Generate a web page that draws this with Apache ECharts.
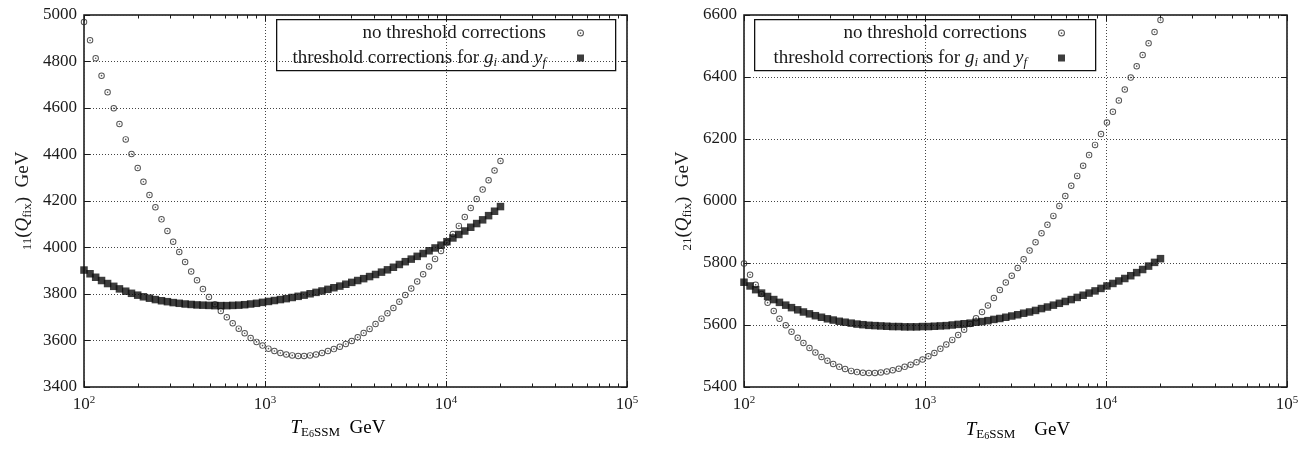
<!DOCTYPE html>
<html>
<head>
<meta charset="utf-8">
<script src="https://cdn.jsdelivr.net/npm/echarts@6/dist/echarts.min.js"></script>
<style>
  html, body { margin: 0; padding: 0; background: #fff; }
  #chart { width: 1315px; height: 450px; }
</style>
</head>
<body>
<div id="chart"></div>
<script>
// Scale T_E6SSM (GeV), log-spaced from 1e2 to 2e4
const tValues = [100, 108, 116, 125, 135, 146, 157, 170, 183, 198,
  213, 230, 248, 268, 289, 311, 336, 362, 391, 421,
  454, 490, 529, 570, 615, 663, 716, 772, 833, 898,
  969, 1045, 1127, 1216, 1311, 1414, 1525, 1645, 1775, 1914,
  2065, 2227, 2402, 2591, 2795, 3015, 3252, 3508, 3783, 4081,
  4402, 4748, 5121, 5524, 5958, 6427, 6932, 7477, 8065, 8699,
  9383, 10120, 10916, 11775, 12700, 13699, 14776, 15938, 17191, 18543,
  20000];

// Left panel: m11(Q_fix)
const leftNoThreshold = [4970, 4891, 4814, 4739, 4668, 4599, 4531, 4465, 4402, 4342,
  4283, 4226, 4173, 4121, 4071, 4025, 3981, 3938, 3897, 3859,
  3821, 3787, 3756, 3727, 3700, 3674, 3651, 3631, 3611, 3594,
  3578, 3565, 3555, 3546, 3540, 3536, 3533, 3533, 3536, 3540,
  3546, 3555, 3563, 3573, 3585, 3598, 3614, 3632, 3650, 3671,
  3694, 3717, 3740, 3767, 3796, 3824, 3854, 3885, 3918, 3951,
  3985, 4021, 4058, 4093, 4131, 4170, 4209, 4249, 4289, 4331,
  4372];
const leftThreshold = [3903, 3887, 3872, 3858, 3845, 3833, 3822, 3812, 3803, 3795,
  3788, 3782, 3776, 3771, 3767, 3763, 3760, 3757, 3755, 3753,
  3752, 3751, 3750, 3750, 3750, 3751, 3752, 3754, 3757, 3760,
  3764, 3768, 3772, 3776, 3780, 3785, 3790, 3795, 3801, 3807,
  3813, 3820, 3827, 3834, 3842, 3850, 3858, 3866, 3875, 3884,
  3894, 3904, 3915, 3927, 3939, 3950, 3962, 3974, 3986, 3998,
  4010, 4025, 4041, 4056, 4071, 4087, 4103, 4119, 4137, 4156,
  4176];

// Right panel: m21(Q_fix)
const rightNoThreshold = [5798, 5762, 5730, 5700, 5672, 5645, 5620, 5599, 5578, 5559,
  5542, 5526, 5511, 5497, 5485, 5474, 5465, 5458, 5452, 5448,
  5446, 5445, 5445, 5447, 5450, 5454, 5459, 5465, 5472, 5480,
  5489, 5499, 5510, 5523, 5537, 5552, 5568, 5585, 5603, 5622,
  5642, 5663, 5687, 5713, 5737, 5759, 5784, 5812, 5840, 5867,
  5896, 5923, 5952, 5984, 6016, 6049, 6081, 6114, 6148, 6181,
  6216, 6253, 6288, 6324, 6360, 6398, 6435, 6471, 6509, 6545,
  6584];
const rightThreshold = [5738, 5726, 5714, 5703, 5692, 5682, 5673, 5664, 5656, 5649,
  5642, 5636, 5630, 5625, 5620, 5616, 5612, 5609, 5606, 5603,
  5601, 5599, 5598, 5597, 5596, 5595, 5595, 5594, 5594, 5594,
  5595, 5595, 5596, 5597, 5598, 5600, 5602, 5604, 5606, 5609,
  5611, 5614, 5618, 5621, 5625, 5629, 5633, 5638, 5642, 5647,
  5653, 5658, 5664, 5670, 5676, 5682, 5689, 5696, 5703, 5710,
  5718, 5726, 5734, 5742, 5750, 5759, 5769, 5779, 5790, 5802,
  5814];

// Axis ticks
const xMinorTicks = [200, 300, 400, 500, 600, 700, 800, 900,
  2000, 3000, 4000, 5000, 6000, 7000, 8000, 9000,
  20000, 30000, 40000, 50000, 60000, 70000, 80000, 90000];
const leftYRange = [3400, 5000];
const rightYRange = [5400, 6600];
const yStep = 200;

const SERIES_A = 'no threshold corrections';
const SERIES_B = 'threshold corrections for g_i and y_f';

const FONT = '"Liberation Serif", "DejaVu Serif", serif';
const INK = '#1a1a1a';

// open circle with a centre dot
const RING_DOT = 'path://M0,-3A3,3 0 1,1 0,3A3,3 0 1,1 0,-3Z' +
  'M0,-2.1A2.1,2.1 0 1,0 0,2.1A2.1,2.1 0 1,0 0,-2.1Z' +
  'M0,-0.75A0.75,0.75 0 1,1 0,0.75A0.75,0.75 0 1,1 0,-0.75Z';

const richText = {
  r: { fontFamily: FONT, fontSize: 19, color: INK, lineHeight: 22 },
  it: { fontFamily: FONT, fontSize: 19, fontStyle: 'italic', color: INK, lineHeight: 22 },
  sub: { fontFamily: FONT, fontSize: 13, color: INK, lineHeight: 22, verticalAlign: 'bottom' },
  subi: { fontFamily: FONT, fontSize: 13, fontStyle: 'italic', color: INK, lineHeight: 22, verticalAlign: 'bottom' },
  subsub: { fontFamily: FONT, fontSize: 10, color: INK, lineHeight: 22, verticalAlign: 'bottom' },
  gap: { fontFamily: FONT, fontSize: 19, lineHeight: 22, width: 26 }
};

const gridsPx = [
  { left: 84, right: 1315 - 627, top: 15, bottom: 450 - 387 },
  { left: 744, right: 1315 - 1287, top: 15, bottom: 450 - 387 }
];

function xAxesFor(gridIndex) {
  const base = {
    type: 'log', logBase: 10, min: 100, max: 100000, gridIndex: gridIndex,
    axisLine: { show: false }, splitLine: { show: false }, axisLabel: { show: false },
    axisTick: { show: true, inside: true, length: 6, lineStyle: { color: INK, width: 1 } }
  };
  return [
    Object.assign({}, base, {
      position: 'bottom',
      splitLine: { show: true, lineStyle: { color: '#444', width: 1, type: [1, 2] } },
      axisLabel: {
        show: true, margin: 8,
        formatter: v => '{b|10}{s|' + Math.round(Math.log10(v)) + '}',
        rich: {
          b: { fontFamily: FONT, fontSize: 17, color: INK, lineHeight: 20 },
          s: { fontFamily: FONT, fontSize: 11, color: INK, lineHeight: 20, verticalAlign: 'top' }
        }
      }
    }),
    Object.assign({}, base, { position: 'bottom',
      axisTick: { show: true, inside: true, length: 3.5, customValues: xMinorTicks, lineStyle: { color: INK, width: 1 } } }),
    Object.assign({}, base, { position: 'top' }),
    Object.assign({}, base, { position: 'top',
      axisTick: { show: true, inside: true, length: 3.5, customValues: xMinorTicks, lineStyle: { color: INK, width: 1 } } })
  ];
}

function yAxesFor(gridIndex, range, sub) {
  return [
    {
      type: 'value', gridIndex: gridIndex, position: 'left',
      min: range[0], max: range[1], interval: yStep,
      axisLine: { show: false },
      axisTick: { show: true, inside: true, length: 6, lineStyle: { color: INK, width: 1 } },
      splitLine: { show: true, lineStyle: { color: '#444', width: 1, type: [1, 2] } },
      axisLabel: { margin: 7, fontFamily: FONT, fontSize: 17, color: INK, formatter: v => String(v) },
      name: '{sub|' + sub + '}{r|(}{it|Q}{sub|fix}{r|)  GeV}',
      nameLocation: 'middle', nameRotate: 90, nameGap: 50,
      nameTextStyle: { rich: richText }
    },
    {
      type: 'value', gridIndex: gridIndex, position: 'right',
      min: range[0], max: range[1], interval: yStep,
      axisLine: { show: false }, splitLine: { show: false }, axisLabel: { show: false },
      axisTick: { show: true, inside: true, length: 6, lineStyle: { color: INK, width: 1 } }
    }
  ];
}

function pairs(ys) { return tValues.map((t, i) => [t, ys[i]]); }

const circleStyle = { color: '#2a2a2a' };
const squareStyle = { color: '#0d0d0d' };

function seriesFor(xIdx, yIdx, a, b) {
  return [
    { type: 'scatter', name: SERIES_A, xAxisIndex: xIdx, yAxisIndex: yIdx, data: pairs(a),
      symbol: RING_DOT, symbolSize: 6.5, itemStyle: circleStyle, silent: true },
    { type: 'scatter', name: SERIES_B, xAxisIndex: xIdx, yAxisIndex: yIdx, data: pairs(b),
      symbol: 'rect', symbolSize: 7.5, itemStyle: squareStyle, silent: true }
  ];
}

function legendAt(rightPx) {
  return {
    data: [SERIES_A, SERIES_B], orient: 'vertical', align: 'right',
    right: rightPx, top: 22, itemGap: 3, itemWidth: 7, itemHeight: 7, padding: 0,
    selectedMode: false,
    formatter: name => name === SERIES_A ? '{r|no threshold corrections}{gap| }'
      : '{r|threshold corrections for }{it|g}{subi|i}{r| and }{it|y}{subi|f}{gap| }',
    textStyle: { rich: richText, lineHeight: 22 }
  };
}

const chart = echarts.init(document.getElementById('chart'), null, { renderer: 'canvas' });
chart.setOption({
  animation: false,
  backgroundColor: '#fff',
  grid: gridsPx.map(g => Object.assign({ show: true, borderColor: '#111', borderWidth: 1.5, backgroundColor: 'transparent' }, g)),
  xAxis: [].concat(xAxesFor(0), xAxesFor(1)),
  yAxis: [].concat(yAxesFor(0, leftYRange, '11'), yAxesFor(1, rightYRange, '21')),
  legend: [legendAt(1315 - 584), legendAt(1315 - 1065)],
  series: [].concat(
    seriesFor(0, 0, leftNoThreshold, leftThreshold),
    seriesFor(4, 2, rightNoThreshold, rightThreshold)
  ),
  graphic: [
    { type: 'rect', left: 276, top: 19, shape: { width: 339, height: 51 },
      style: { fill: 'transparent', stroke: '#111', lineWidth: 1.3 }, z: 10 },
    { type: 'rect', left: 754, top: 19, shape: { width: 341, height: 51 },
      style: { fill: 'transparent', stroke: '#111', lineWidth: 1.3 }, z: 10 },
    { type: 'text', x: 338, y: 428, z: 10,
      style: { text: '{it|T}{sub|E}{subsub|6}{sub|SSM}{r|  GeV}', rich: richText, align: 'center', verticalAlign: 'middle' } },
    { type: 'text', x: 1018, y: 430, z: 10,
      style: { text: '{it|T}{sub|E}{subsub|6}{sub|SSM}{r|    GeV}', rich: richText, align: 'center', verticalAlign: 'middle' } }
  ]
});
</script>
</body>
</html>
